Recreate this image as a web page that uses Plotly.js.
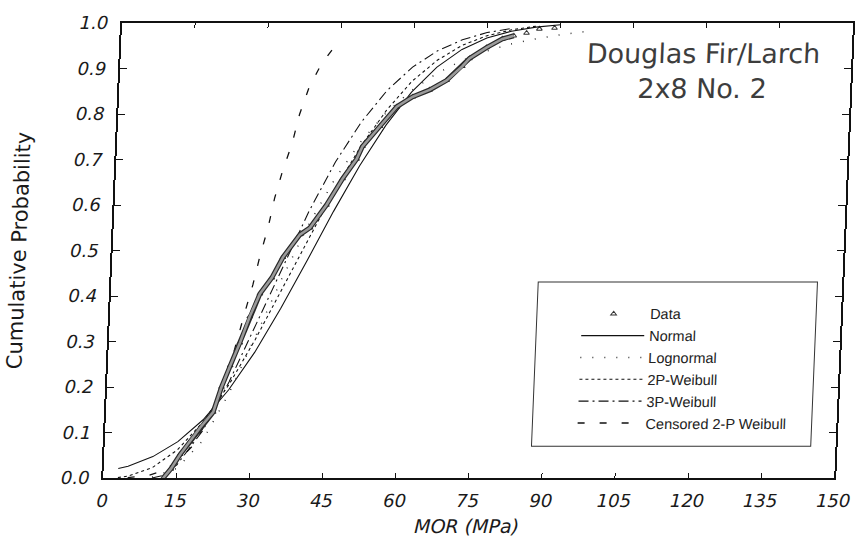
<!DOCTYPE html>
<html>
<head>
<meta charset="utf-8">
<script src="https://cdn.plot.ly/plotly-3.0.1.min.js"></script>
<style>
  html, body { margin: 0; padding: 0; background: #ffffff; overflow: hidden; width: 856px; height: 542px; }
  #chart { width: 880px; height: 542px; transform: skewX(-2.36deg); transform-origin: 0 23px; }
</style>
</head>
<body>
<div id="chart"></div>
<script>
// ---- Data ----
// Empirical cumulative probability (Data)
const dataMOR  = [12.3, 13.8, 15.6, 17.5, 19.4, 22.0, 23.5, 25.1, 26.9, 28.7, 30.6, 32.9, 35.0, 38.3, 40.3, 43.5, 46.6, 49.3, 50.4, 53.8, 57.1, 60.3, 63.7, 67.1, 70.2, 71.6, 75.0, 78.2, 80.5, 83.1, 85.7, 88.8];
const dataProb = [0.000, 0.020, 0.052, 0.080, 0.110, 0.145, 0.200, 0.247, 0.297, 0.355, 0.405, 0.440, 0.485, 0.535, 0.550, 0.600, 0.658, 0.701, 0.729, 0.773, 0.816, 0.838, 0.853, 0.874, 0.905, 0.922, 0.946, 0.965, 0.972, 0.978, 0.987, 0.989];

// Normal fit
const normalMOR  = [3, 5, 10, 15, 20, 25, 30, 35, 40, 45, 50, 55, 60, 65, 70, 75, 80, 85, 90];
const normalProb = [0.021, 0.026, 0.047, 0.080, 0.128, 0.194, 0.276, 0.373, 0.478, 0.586, 0.687, 0.775, 0.848, 0.903, 0.942, 0.967, 0.982, 0.991, 0.996];

// Lognormal fit
const lognormMOR  = [10, 15, 20, 25, 30, 35, 40, 45, 50, 55, 60, 65, 70, 75, 80, 85, 90, 95];
const lognormProb = [0.002, 0.021, 0.081, 0.184, 0.310, 0.439, 0.557, 0.657, 0.739, 0.803, 0.852, 0.889, 0.917, 0.938, 0.954, 0.965, 0.974, 0.981];

// 2P-Weibull fit
const weib2MOR  = [3, 5, 10, 15, 20, 25, 30, 35, 40, 45, 50, 55, 60, 65, 70, 75, 80, 85];
const weib2Prob = [0.001, 0.004, 0.023, 0.062, 0.123, 0.205, 0.304, 0.414, 0.525, 0.632, 0.728, 0.808, 0.872, 0.918, 0.951, 0.972, 0.985, 0.993];

// 3P-Weibull fit
const weib3MOR  = [10, 12, 15, 20, 25, 30, 35, 40, 45, 50, 55, 60, 65, 70, 75, 80];
const weib3Prob = [0.000, 0.005, 0.029, 0.104, 0.211, 0.336, 0.465, 0.587, 0.695, 0.783, 0.852, 0.903, 0.939, 0.963, 0.979, 0.988];

// Censored 2-P Weibull fit
const censMOR  = [5, 9, 12, 15, 18, 21, 23.5, 25.8, 27.7, 29.1, 30.3, 31.7, 32.8, 34.2, 35.9, 37.2, 38.9, 41.3, 45.0];
const censProb = [0.001, 0.005, 0.015, 0.035, 0.070, 0.130, 0.200, 0.280, 0.366, 0.426, 0.489, 0.550, 0.615, 0.675, 0.734, 0.799, 0.857, 0.911, 0.965];

// Axis ticks
const xTicks = [0, 15, 30, 45, 60, 75, 90, 105, 120, 135, 150];
const yTicks = [0.0, 0.1, 0.2, 0.3, 0.4, 0.5, 0.6, 0.7, 0.8, 0.9, 1.0];

const bandEnd = 29; // the thick data band; the last points show as separate triangles

const SANS = '"Liberation Sans", Arial, Helvetica, sans-serif';
const WIDE = '"DejaVu Sans", Verdana, sans-serif';

const traces = [
  { x: dataMOR, y: dataProb, mode: 'markers', name: 'Data',
    marker: { symbol: 'triangle-up-open', size: 5, color: '#333', line: { width: 1, color: '#333' } } },
  { x: normalMOR, y: normalProb, mode: 'lines', name: 'Normal',
    line: { color: '#111', width: 1.1, dash: 'solid' } },
  { x: lognormMOR, y: lognormProb, mode: 'lines', name: 'Lognormal',
    line: { color: '#333', width: 1.5, dash: '1px,11px' } },
  { x: weib2MOR, y: weib2Prob, mode: 'lines', name: '2P-Weibull',
    line: { color: '#111', width: 1.1, dash: '3px,3px' } },
  { x: weib3MOR, y: weib3Prob, mode: 'lines', name: '3P-Weibull',
    line: { color: '#111', width: 1.1, dash: '10px,4px,2px,4px' } },
  { x: censMOR, y: censProb, mode: 'lines', name: 'Censored 2-P Weibull',
    line: { color: '#111', width: 1.3, dash: '7px,15px' } },
  { x: dataMOR.slice(0, bandEnd), y: dataProb.slice(0, bandEnd), mode: 'lines', showlegend: false,
    line: { color: '#2a2a2a', width: 5 }, hoverinfo: 'skip' },
  { x: dataMOR.slice(0, bandEnd), y: dataProb.slice(0, bandEnd), mode: 'lines', showlegend: false,
    line: { color: '#9a9a9a', width: 2.6 }, hoverinfo: 'skip' }
];

const layout = {
  width: 880, height: 542,
  paper_bgcolor: '#ffffff', plot_bgcolor: '#ffffff',
  margin: { l: 122, r: 27, t: 23, b: 64 },
  font: { family: SANS, color: '#1a1a1a' },
  showlegend: true,
  legend: {
    x: 0.639, y: 0.396, xanchor: 'left', yanchor: 'top',
    bgcolor: 'rgba(0,0,0,0)', borderwidth: 0,
    font: { family: SANS, size: 14.5, color: '#222' },
    itemwidth: 63, tracegroupgap: 0
  },
  xaxis: {
    range: [0, 150], tickvals: xTicks, ticktext: xTicks.map(String),
    ticks: 'inside', ticklen: 5, tickcolor: '#111', mirror: 'ticks',
    showline: true, linecolor: '#111', linewidth: 2,
    showgrid: false, zeroline: false, ticklabelstandoff: 5,
    ticklabeloverflow: 'allow',
    tickfont: { family: WIDE, size: 18, style: 'italic', color: '#1a1a1a' },
    title: { text: 'MOR (MPa)', standoff: 10,
             font: { family: WIDE, size: 19, style: 'italic', color: '#1a1a1a' } }
  },
  yaxis: {
    range: [0, 1], tickvals: yTicks, ticktext: yTicks.map(v => v.toFixed(1)),
    ticks: 'inside', ticklen: 7, tickcolor: '#111', mirror: 'ticks',
    showline: true, linecolor: '#111', linewidth: 2,
    showgrid: false, zeroline: false, ticklabelstandoff: 8,
    ticklabeloverflow: 'allow',
    tickfont: { family: WIDE, size: 18, style: 'italic', color: '#1a1a1a' },
    title: { text: 'Cumulative Probability', standoff: 38,
             font: { family: WIDE, size: 21, color: '#1a1a1a' } }
  },
  shapes: [
    { type: 'rect', xref: 'paper', yref: 'paper', x0: 0.584, x1: 0.966, y0: 0.070, y1: 0.431,
      line: { color: '#333', width: 1 }, fillcolor: 'rgba(0,0,0,0)', layer: 'below' }
  ],
  annotations: [
    { xref: 'paper', yref: 'paper', x: 0.7975, y: 0.8945, xanchor: 'center', yanchor: 'middle',
      showarrow: false, align: 'center',
      text: 'Douglas Fir/Larch<br>2x8 No. 2',
      font: { family: WIDE, size: 27, color: '#3d3d3d' } }
  ]
};

Plotly.newPlot('chart', traces, layout, { staticPlot: true, displayModeBar: false });
</script>
</body>
</html>
